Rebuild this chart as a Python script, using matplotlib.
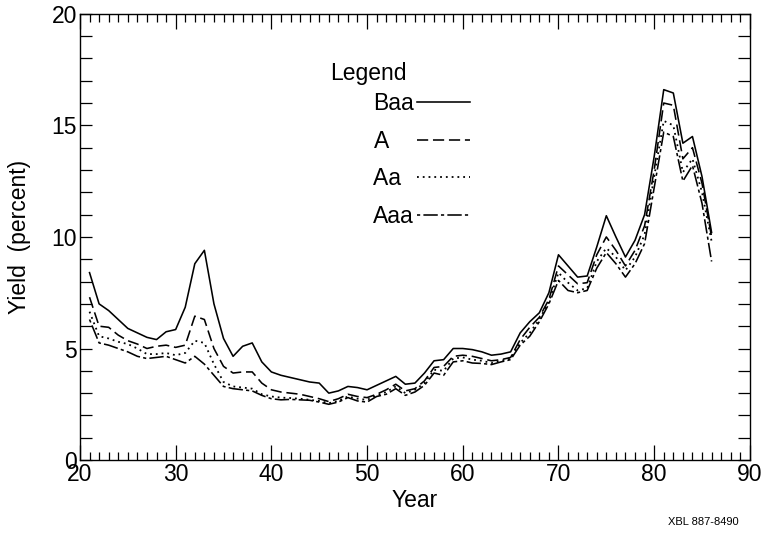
import numpy as np
import matplotlib
matplotlib.use('Agg')
import matplotlib.pyplot as plt
from matplotlib.ticker import MultipleLocator

plt.rcParams['font.family'] = ['Liberation Sans', 'DejaVu Sans']

# years 1921-1986, plotted as two-digit year
years = list(range(21, 87))

baa = [8.4, 7.0, 6.7, 6.3, 5.9, 5.7, 5.5, 5.4, 5.75, 5.85,
       6.85, 8.8, 9.4, 7.0, 5.45, 4.65, 5.1, 5.25, 4.4, 3.95,
       3.8, 3.7, 3.6, 3.5, 3.45, 3.0, 3.1, 3.3, 3.25, 3.15,
       3.35, 3.55, 3.75, 3.4, 3.45, 3.9, 4.45, 4.5, 5.0, 5.0,
       4.95, 4.85, 4.7, 4.75, 4.85, 5.7, 6.2, 6.6, 7.5, 9.2,
       8.7, 8.2, 8.25, 9.55, 10.95, 10.0, 9.1, 9.85, 11.0, 13.6,
       16.6, 16.45, 14.2, 14.5, 12.7, 10.2]

a = [7.3, 6.0, 5.95, 5.6, 5.35, 5.2, 5.0, 5.1, 5.15, 5.05,
     5.15, 6.45, 6.3, 5.0, 4.2, 3.9, 3.95, 3.95, 3.45, 3.15,
     3.05, 3.0, 2.95, 2.85, 2.75, 2.62, 2.75, 2.95, 2.85, 2.8,
     2.95, 3.15, 3.4, 3.1, 3.2, 3.55, 4.15, 4.2, 4.65, 4.7,
     4.65, 4.55, 4.45, 4.5, 4.6, 5.4, 5.95, 6.4, 7.2, 8.7,
     8.3, 7.9, 7.95, 9.2, 10.0, 9.4, 8.7, 9.4, 10.5, 13.0,
     16.0, 15.9, 13.5, 14.0, 12.4, 10.0]

aa = [6.65, 5.55, 5.45, 5.3, 5.2, 5.0, 4.75, 4.75, 4.8, 4.7,
      4.8, 5.35, 5.25, 4.3, 3.5, 3.3, 3.25, 3.2, 2.95, 2.85,
      2.8, 2.78, 2.75, 2.7, 2.65, 2.55, 2.65, 2.85, 2.75, 2.7,
      2.9, 3.05, 3.3, 3.0, 3.15, 3.45, 4.05, 4.0, 4.55, 4.6,
      4.5, 4.45, 4.35, 4.45, 4.55, 5.25, 5.7, 6.3, 7.1, 8.4,
      7.95, 7.6, 7.7, 8.9, 9.5, 9.1, 8.5, 9.1, 10.1, 12.7,
      15.2, 15.0, 12.9, 13.5, 12.0, 9.8]

aaa = [6.3, 5.25, 5.15, 5.0, 4.85, 4.65, 4.55, 4.6, 4.65, 4.5,
       4.35, 4.65, 4.3, 3.8, 3.3, 3.2, 3.15, 3.1, 2.9, 2.75,
       2.7, 2.72, 2.7, 2.68, 2.6, 2.5, 2.6, 2.8, 2.65, 2.6,
       2.85, 2.95, 3.2, 2.9, 3.05, 3.35, 3.9, 3.8, 4.4, 4.45,
       4.35, 4.33, 4.28, 4.4, 4.5, 5.15, 5.55, 6.2, 7.0, 8.05,
       7.6, 7.5, 7.6, 8.6, 9.3, 8.8, 8.2, 8.8, 9.7, 12.2,
       14.7, 14.5, 12.5, 13.2, 11.5, 8.9]

# legend labels, padded so the text reads left-aligned
labels = ['Baa', 'A    ', 'Aa  ', 'Aaa']

fs = 16.5

fig = plt.figure(figsize=(7.63, 5.51), dpi=100)
ax = fig.add_axes([0.1048, 0.165, 0.878, 0.81])

ax.plot(years, baa, color='black', lw=1.15, ls='-', label=labels[0])
ax.plot(years, a, color='black', lw=1.15, ls=(0, (7, 3)), label=labels[1])
ax.plot(years, aa, color='black', lw=1.3, ls=(0, (1, 2.2)), label=labels[2])
ax.plot(years, aaa, color='black', lw=1.15, ls=(0, (2, 2, 9, 2)), label=labels[3])

ax.set_xlim(20, 90)
ax.set_ylim(0, 20)
ax.xaxis.set_major_locator(MultipleLocator(10))
ax.xaxis.set_minor_locator(MultipleLocator(1))
ax.yaxis.set_major_locator(MultipleLocator(5))
ax.yaxis.set_minor_locator(MultipleLocator(1))
ax.tick_params(axis='both', which='both', direction='in',
               top=True, right=True, labelsize=fs, width=0.9, pad=2)
ax.tick_params(axis='x', which='major', length=11)
ax.tick_params(axis='x', which='minor', length=6)
ax.tick_params(axis='y', which='both', length=8.5)
for sp in ax.spines.values():
    sp.set_linewidth(1.0)

ax.set_xlabel('Year', fontsize=fs, labelpad=2)
ax.set_ylabel('Yield  (percent)', fontsize=fs, labelpad=15)

ax.text(0.373, 0.866, 'Legend', transform=ax.transAxes, fontsize=fs,
        ha='left', va='center')
ax.legend(loc='upper left', bbox_to_anchor=(0.437, 0.825), frameon=False,
          markerfirst=False, fontsize=fs, handlelength=2.3,
          handletextpad=0.15, labelspacing=0.64, borderpad=0,
          borderaxespad=0)

fig.text(0.968, 0.052, 'XBL 887-8490', fontsize=8, ha='right', va='center')

fig.savefig('out.png', dpi=100)
